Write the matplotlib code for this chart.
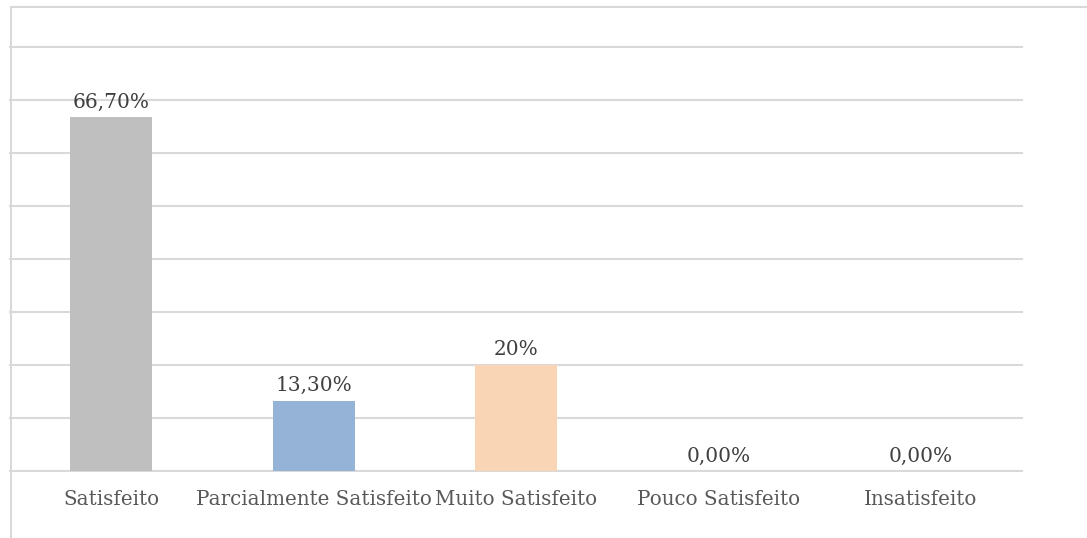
import matplotlib.pyplot as plt
import matplotlib.lines as mlines

categories = ["Satisfeito", "Parcialmente Satisfeito", "Muito Satisfeito",
              "Pouco Satisfeito", "Insatisfeito"]
values = [66.7, 13.3, 20.0, 0.0, 0.0]
value_labels = ["66,70%", "13,30%", "20%", "0,00%", "0,00%"]
colors = ["#BFBFBF", "#95B3D7", "#FAD5B5", "#BFBFBF", "#BFBFBF"]

W, H = 1087, 538
fig = plt.figure(figsize=(W / 100, H / 100), dpi=100)

# plot area in pixels: left 10, right 1022, top 47, bottom 471
ax = fig.add_axes([10 / W, (H - 471) / H, (1022 - 10) / W, (471 - 47) / H])

x = range(len(categories))
ax.bar(x, values, width=0.405, color=colors, zorder=3)

ax.set_xlim(-0.5, len(categories) - 0.5)
ax.set_ylim(0, 80)
ax.set_yticks(range(0, 81, 10))
ax.yaxis.grid(True, color="#D9D9D9", linewidth=1.5, zorder=0)
for gl in ax.get_ygridlines():
    gl.set_clip_on(False)
ax.tick_params(axis="y", left=False, labelleft=False)
ax.tick_params(axis="x", bottom=False, labelsize=14.3, colors="#595959", pad=10)
ax.set_xticks(list(x))
ax.set_xticklabels(categories, family="DejaVu Serif")
for s in ax.spines.values():
    s.set_visible(False)

for i, (v, lab) in enumerate(zip(values, value_labels)):
    ax.annotate(lab, (i, v), xytext=(0, 4), textcoords="offset points",
                ha="center", va="bottom", fontsize=14.5, color="#404040",
                family="DejaVu Serif")

# outer chart border (left and top)
fig.add_artist(mlines.Line2D([10.5 / W, 10.5 / W], [0, (H - 7) / H],
                             color="#D9D9D9", linewidth=1.5))
fig.add_artist(mlines.Line2D([10.5 / W, 1], [(H - 7) / H, (H - 7) / H],
                             color="#D9D9D9", linewidth=1.5))

fig.savefig("out.png", dpi=100)
